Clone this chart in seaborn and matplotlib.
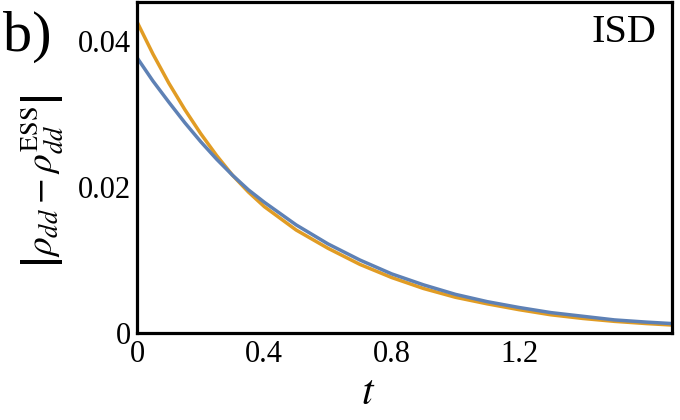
import numpy as np
import pandas as pd
import matplotlib
matplotlib.use('Agg')
import matplotlib.pyplot as plt
import seaborn as sns

# ── values ────────────────────────────────────────────────────
t_vals = [0.0, 0.05, 0.1, 0.15, 0.2, 0.25, 0.3, 0.35, 0.4, 0.5, 0.6, 0.7,
          0.8, 0.9, 1.0, 1.1, 1.2, 1.3, 1.4, 1.5, 1.6, 1.68]
blue_vals = [0.0377, 0.0345, 0.0316, 0.0288, 0.0262, 0.0238, 0.0216, 0.0196,
             0.0179, 0.0148, 0.0122, 0.0100, 0.0081, 0.0066, 0.0053, 0.0043,
             0.0035, 0.0028, 0.0023, 0.0018, 0.0015, 0.0013]
orange_vals = [0.0426, 0.0382, 0.0342, 0.0306, 0.0273, 0.0243, 0.0216, 0.0193,
               0.0173, 0.0141, 0.0116, 0.0094, 0.0076, 0.0061, 0.0049, 0.0040,
               0.0032, 0.0025, 0.0020, 0.0016, 0.0013, 0.0011]
series_names = ['blue', 'orange']
palette = {'blue': '#5E81B5', 'orange': '#E19C24'}

x_ticks = [0, 0.4, 0.8, 1.2]
x_ticklabels = ['0', '0.4', '0.8', '1.2']
y_ticks = [0, 0.02, 0.04]
y_ticklabels = ['0', '0.02', '0.04']

df = pd.DataFrame({
    't': t_vals * 2,
    'val': blue_vals + orange_vals,
    'series': [series_names[0]] * len(t_vals) + [series_names[1]] * len(t_vals),
})

# ── style ─────────────────────────────────────────────────────
sns.set_theme(style='white')
plt.rcParams['font.family'] = ['Liberation Serif', 'DejaVu Serif']
plt.rcParams['mathtext.fontset'] = 'stix'

fig = plt.figure(figsize=(6.8, 4.2), dpi=100)
ax = fig.add_axes([0.2015, 0.207, 0.7865, 0.788])

sns.lineplot(data=df, x='t', y='val', hue='series', palette=palette,
             hue_order=['orange', 'blue'], linewidth=2.5, legend=False,
             ax=ax, estimator=None, sort=False)

ax.set_xlim(0, 1.68)
ax.set_ylim(0, 0.0453)
ax.set_xticks(x_ticks)
ax.set_xticklabels(x_ticklabels)
ax.set_yticks(y_ticks)
ax.set_yticklabels(y_ticklabels)
ax.tick_params(direction='in', length=5, width=2, color='black',
               labelsize=22, labelcolor='black')
ax.tick_params(axis='x', pad=5)
ax.tick_params(axis='y', pad=4)
for sp in ax.spines.values():
    sp.set_visible(True)
    sp.set_color('black')
    sp.set_linewidth(2.3)

ax.set_xlabel(r'$t$', fontsize=30, color='black')
ax.xaxis.set_label_coords(0.432, -0.125)
ax.set_ylabel(r'$\left|\rho_{dd} - \rho_{dd}^{\mathrm{ESS}}\right|$',
              fontsize=27, color='black')
ax.yaxis.set_label_coords(-0.132, 0.46)

ax.text(0.972, 0.965, 'ISD', transform=ax.transAxes, ha='right', va='top',
        fontsize=29, color='black')
fig.text(0.004, 0.975, 'b)', ha='left', va='top', fontsize=42, color='black')

fig.savefig('out.png', dpi=100)
